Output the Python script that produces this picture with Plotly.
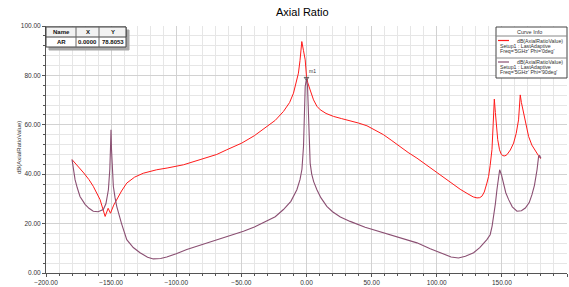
import plotly.graph_objects as go

# ---- data ----
theta_phi0 = [-180, -175, -171, -167, -163.7, -158.5, -155.5, -154.6, -152.3, -150.5, -148, -145.7, -142, -138,
              -132, -125.3, -115, -107, -99.6, -94.5, -81.7, -68.9, -61.2, -49.7, -40, -30.4, -24, -17.7, -13,
              -10, -8, -6.2, -5, -3.6, -2.3, -1, 0, 1, 2.8, 5.4, 8, 10.5, 15, 20.7, 27, 33.5, 40, 46.4, 52,
              59.1, 65, 72, 78, 84.8, 91, 97.5, 104, 110, 118, 124, 128, 130.9, 133, 134.7, 136.5, 138.5,
              139.8, 141, 142.4, 143.3, 144.2, 145, 145.7, 146.8, 148.2, 149.5, 150.8, 152.3, 153.9, 156.5,
              159, 161, 162.8, 163.6, 164.1, 165, 166.7, 168.5, 170.5, 173, 175.7, 178, 179.5, 180]
ar_phi0 = [45.9, 43.0, 40.5, 37.8, 35.1, 29.7, 25.0, 22.9, 26.2, 24.2, 27.5, 29.9, 33.2, 36.4,
           38.8, 40.4, 41.8, 42.5, 43.3, 43.8, 45.9, 48.0, 49.9, 52.6, 55.6, 59.1, 61.8, 65.4, 69.0,
           72.8, 76.5, 80.9, 86.0, 93.7, 90.0, 86.3, 79.5, 77.0, 74.1, 70.1, 67.5, 66.1, 64.6, 63.4, 62.5,
           61.7, 60.7, 59.6, 58.0, 56.0, 53.8, 51.0, 48.8, 46.5, 44.1, 41.6, 39.0, 37.0, 33.9, 32.0, 30.8,
           30.4, 30.5, 31.1, 32.8, 36.4, 39.1, 43.5, 50.0, 60.0, 70.4, 65.0, 60.7, 54.0, 49.9, 48.1, 47.5,
           47.4, 47.9, 49.8, 52.6, 56.5, 62.0, 67.0, 72.1, 69.0, 64.7, 59.5, 55.3, 51.8, 49.2, 47.6, 46.5, 46.3]

theta_phi90 = [-180, -178.5, -177.7, -176, -173.9, -170, -167, -163.7, -160, -156, -154, -152.1, -151, -150.4,
               -150.1, -149.7, -149.2, -148.3, -147, -145.7, -142, -138, -133, -127.8, -122, -117.6, -112,
               -107.3, -100, -91.9, -80, -68.9, -58, -48.4, -40, -30.5, -24, -17.7, -12, -7.4, -5, -3.5, -2.3,
               -1, 0, 0.8, 2.3, 2.8, 4, 5.5, 8, 11, 15.6, 20, 26, 33.5, 45, 59.1, 72, 84.8, 95, 105.2, 111,
               116.7, 122, 128.3, 133, 138.5, 141, 142.5, 144, 145, 146.2, 147.3, 148.3, 149.8, 151.3, 153,
               155.2, 158, 161.6, 165, 168, 171, 173.1, 175, 177, 178.2, 179, 180]
ar_phi90 = [45.9, 40.0, 37.8, 34.5, 31.0, 27.8, 26.2, 25.0, 24.8, 25.7, 28.0, 33.7, 42.0, 52.0,
            58.0, 50.0, 42.0, 35.1, 30.5, 27.0, 20.0, 13.5, 10.3, 8.2, 6.4, 5.7, 5.9,
            6.5, 7.8, 9.5, 11.5, 13.3, 15.1, 16.9, 18.6, 20.9, 22.8, 25.7, 29.0, 33.7, 37.8, 42.0, 51.2,
            75.5, 78.8, 75.5, 51.2, 44.5, 40.0, 37.0, 33.7, 30.5, 27.0, 24.8, 22.7, 20.9, 18.5, 16.2, 14.3,
            12.2, 9.8, 7.5, 6.5, 6.1, 6.8, 8.2, 10.3, 13.5, 15.5, 19.0, 24.0, 28.0, 33.7, 39.0, 41.8, 39.5,
            36.4, 32.5, 29.7, 26.8, 25.0, 25.2, 26.3, 28.5, 31.7, 35.5, 41.8, 47.2, 47.5, 46.5]

x_ticks = [-200, -150, -100, -50, 0, 50, 100, 150, 200]
y_ticks = [0, 20, 40, 60, 80, 100]
marker_name = "AR"
marker_x = 0.0
marker_y = 78.8053

RED = "#ff1a1a"
PURPLE = "#8a4f72"
FONT = "Liberation Sans"

W, H = 569, 287
L, R, T, B = 46, 2, 26, 14
PW, PH = W - L - R, H - T - B


def px(x):
    return (x - L) / PW


def py(y):
    return (H - B - y) / PH


def note(text, x, y, size, xanchor="center", yanchor="middle", color="#333333", **kw):
    return dict(text=text, x=px(x), y=py(y), xref="paper", yref="paper", xanchor=xanchor,
                yanchor=yanchor, showarrow=False, font=dict(family=FONT, size=size, color=color), **kw)


fig = go.Figure()
fig.add_trace(go.Scatter(x=theta_phi0, y=ar_phi0, mode="lines", line=dict(color=RED, width=1),
                         showlegend=False, hoverinfo="skip"))
fig.add_trace(go.Scatter(x=theta_phi90, y=ar_phi90, mode="lines", line=dict(color=PURPLE, width=1.1),
                         showlegend=False, hoverinfo="skip"))

axis_common = dict(showline=True, linecolor="#555555", linewidth=1, ticks="outside", ticklen=3,
                   tickcolor="#555555", tickformat=".2f", gridcolor="#d2d2d2", gridwidth=1,
                   zeroline=False, automargin=False, tickfont=dict(family=FONT, size=6.5, color="#333333"),
                   minor=dict(ticks="outside", ticklen=2, tickcolor="#555555", showgrid=True,
                              gridcolor="#e6e6e6", gridwidth=1))

fig.update_xaxes(range=[-200, 200], tickvals=x_ticks, minor_dtick=10, ticklabelstandoff=0, **axis_common)
fig.update_yaxes(range=[0, 100], tickvals=y_ticks, minor_dtick=4, **axis_common)

shapes = []
annotations = []

annotations.append(note("Axial Ratio", 302, 12, 11, color="#000000"))
annotations.append(note("dB(AxialRatioValue)", 19, 148, 6, textangle=-90))
annotations.append(note("Theta [deg]", 306, 283.5, 6.5, yanchor="top"))

# marker label
annotations.append(dict(text="m1", x=marker_x, y=marker_y, xref="x", yref="y", showarrow=False,
                        xanchor="left", yanchor="bottom", xshift=0, yshift=2,
                        font=dict(family=FONT, size=5, color="#333333")))
fig.add_trace(go.Scatter(x=[marker_x], y=[marker_y], mode="markers",
                         marker=dict(symbol="triangle-down-open", size=4, color="#555555", line=dict(width=1)),
                         showlegend=False, hoverinfo="skip"))

# marker table
shapes.append(dict(type="rect", xref="paper", yref="paper", x0=px(49), x1=px(129), y0=py(50), y1=py(30),
                   fillcolor="#a8a8a8", line=dict(color="#a8a8a8", width=1), layer="above"))
shapes.append(dict(type="rect", xref="paper", yref="paper", x0=px(46), x1=px(126), y0=py(47), y1=py(27),
                   fillcolor="#ffffff", line=dict(color="#444444", width=1), layer="above"))
shapes.append(dict(type="rect", xref="paper", yref="paper", x0=px(46), x1=px(126), y0=py(37), y1=py(27),
                   fillcolor="#f2f2f2", line=dict(color="#444444", width=1), layer="above"))
for xx in (76, 99):
    shapes.append(dict(type="line", xref="paper", yref="paper", x0=px(xx), x1=px(xx), y0=py(47), y1=py(27),
                       line=dict(color="#666666", width=1), layer="above"))
table_cells = [("Name", 61, 32.3), ("X", 87.5, 32.3), ("Y", 112.5, 32.3),
               (marker_name, 61, 42.3), ("%.4f" % marker_x, 87.5, 42.3), ("%.4f" % marker_y, 112.5, 42.3)]
for txt, cx, cy in table_cells:
    annotations.append(note("<b>%s</b>" % txt, cx, cy, 6, color="#111111"))

# curve info box
shapes.append(dict(type="rect", xref="paper", yref="paper", x0=px(496), x1=px(567), y0=py(78), y1=py(27),
                   fillcolor="#ffffff", line=dict(color="#444444", width=1), layer="above"))
for yy in (36, 58):
    shapes.append(dict(type="line", xref="paper", yref="paper", x0=px(496), x1=px(567), y0=py(yy), y1=py(yy),
                       line=dict(color="#888888", width=1), layer="above"))
annotations.append(note("Curve Info", 529, 32, 5.5))
legend_rows = [(RED, 40.5, "Freq='5GHz' Phi='0deg'"), (PURPLE, 62, "Freq='5GHz' Phi='90deg'")]
for col, yy, freq in legend_rows:
    shapes.append(dict(type="line", xref="paper", yref="paper", x0=px(498), x1=px(509), y0=py(yy), y1=py(yy),
                       line=dict(color=col, width=1.2), layer="above"))
    annotations.append(note("dB(AxialRatioValue)", 565, yy, 5.2, xanchor="right"))
    annotations.append(note("Setup1 : LastAdaptive", 498, yy + 5.3, 5.2, xanchor="left"))
    annotations.append(note(freq, 498, yy + 10, 5.2, xanchor="left"))

fig.update_layout(width=W, height=H, margin=dict(l=L, r=R, t=T, b=B), paper_bgcolor="#ffffff",
                  plot_bgcolor="#ffffff", shapes=shapes, annotations=annotations, showlegend=False)

fig.write_html("out.html", config={"displayModeBar": False},
               post_script="document.body.style.margin='0';document.body.style.overflow='hidden';")
